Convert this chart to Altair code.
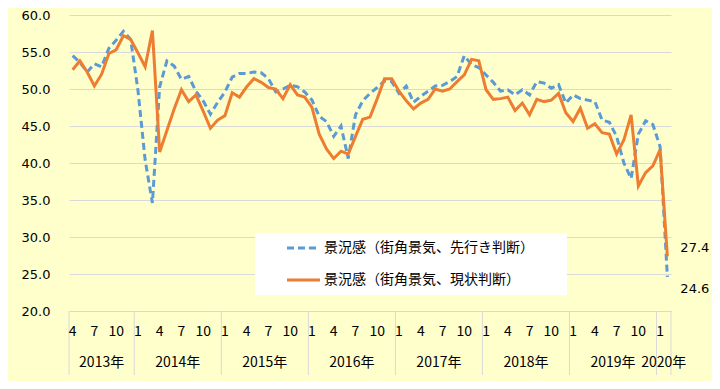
import altair as alt
import pandas as pd

# ---- data -------------------------------------------------------------
series_names = ["景況感（街角景気、先行き判断）", "景況感（街角景気、現状判断）"]

# 先行き判断 (blue dashed), Apr 2013 .. Feb 2020
future = [54.5, 53.6, 52.3, 53.4, 53.0, 55.5, 56.6, 57.8, 56.7,
          49.9, 40.4, 34.6, 50.3, 53.8, 53.1, 51.3, 51.7, 49.7, 48.4, 46.6, 48.2,
          49.6, 51.6, 52.1, 52.1, 52.3, 52.2, 51.4, 49.6, 50.0, 50.5, 50.3, 49.6,
          48.5, 46.3, 45.6, 43.6, 45.0, 40.6, 46.5, 48.4, 49.4, 50.2, 51.1, 51.0,
          49.4, 50.4, 48.2, 49.0, 49.7, 50.4, 50.5, 51.0, 51.7, 54.5, 53.3, 52.9,
          51.9, 50.9, 49.7, 49.9, 49.2, 49.9, 49.2, 51.0, 50.8, 50.1, 50.6, 48.1,
          49.2, 48.7, 48.5, 48.3, 45.8, 45.5, 43.6, 40.0, 37.9, 43.9, 45.7, 45.2,
          42.2, 24.6]

# 現状判断 (orange solid)
current = [52.6, 53.8, 52.3, 50.4, 52.0, 54.8, 55.3, 57.2, 56.7,
           54.9, 53.0, 57.9, 41.5, 44.4, 47.3, 49.9, 48.3, 49.2, 47.0, 44.7, 45.8,
           46.4, 49.5, 48.9, 50.3, 51.4, 50.9, 50.2, 50.0, 48.7, 50.6, 49.2, 48.9,
           47.5, 43.9, 41.9, 40.6, 41.6, 41.2, 43.6, 45.9, 46.2, 48.7, 51.4, 51.4,
           49.7, 48.4, 47.3, 48.1, 48.6, 50.0, 49.7, 50.0, 51.0, 51.9, 54.0, 53.8,
           49.9, 48.6, 48.7, 48.9, 47.1, 48.1, 46.5, 48.6, 48.3, 48.5, 49.4, 46.8,
           45.6, 47.4, 44.7, 45.3, 44.1, 43.9, 41.2, 43.1, 46.5, 36.9, 38.7, 39.6,
           41.8, 27.4]

start_year, start_month = 2013, 4
month_ticks = [1, 4, 7, 10]
y_ticks = [20.0, 25.0, 30.0, 35.0, 40.0, 45.0, 50.0, 55.0, 60.0]

# ---- tables built from the arrays --------------------------------------
n = len(current)
years, months = [], []
yy, mm = start_year, start_month
for _ in range(n):
    years.append(yy)
    months.append(mm)
    mm += 1
    if mm > 12:
        mm = 1
        yy += 1

df = pd.DataFrame({
    "idx": [i + 0.5 for i in range(n)],
    "year": years,
    "month": months,
    "future": future,
    "current": current,
})

month_df = df[df["month"].isin(month_ticks)].copy()
month_df["label"] = month_df["month"].astype(str)

year_rows = []
for yv in sorted(set(years)):
    idxs = [i for i, v in enumerate(years) if v == yv]
    year_rows.append({"year": f"{yv}年", "start": idxs[0], "end": idxs[-1] + 1,
                      "center": (idxs[0] + idxs[-1] + 1) / 2})
year_df = pd.DataFrame(year_rows)
bound_df = pd.DataFrame({"b": list(year_df["start"]) + [n]})

last_df = df.tail(1)

BLUE = "#5B9BD5"
ORANGE = "#ED7D31"
GRID = "#D9D9D9"
JP = "Noto Sans CJK JP"
NUM = "DejaVu Sans"

xscale = alt.Scale(domain=[0, n], nice=False, zero=False)
yscale = alt.Scale(domain=[20, 60], nice=False, zero=False)
yaxis = alt.Axis(values=y_ticks, format=".1f", grid=True, gridColor=GRID,
                 gridWidth=1, domain=False, ticks=False, labelPadding=19,
                 labelFont=NUM, labelFontSize=13, labelColor="#000000",
                 title=None)

X = alt.X("idx:Q", scale=xscale, axis=None)

base = alt.Chart(df)

line_future = base.mark_line(color=BLUE, strokeWidth=3, strokeDash=[7, 4]).encode(
    x=X, y=alt.Y("future:Q", scale=yscale, axis=yaxis))
line_current = base.mark_line(color=ORANGE, strokeWidth=3).encode(
    x=X, y=alt.Y("current:Q", scale=yscale, axis=yaxis))

lab_current = alt.Chart(last_df).mark_text(
    align="left", baseline="middle", dx=13, dy=-8, font=NUM, fontSize=13,
    color="#000000").encode(
    x=X, y=alt.Y("current:Q", scale=yscale, axis=yaxis),
    text=alt.Text("current:Q", format=".1f"))
lab_future = alt.Chart(last_df).mark_text(
    align="left", baseline="middle", dx=13, dy=12, font=NUM, fontSize=13,
    color="#000000").encode(
    x=X, y=alt.Y("future:Q", scale=yscale, axis=yaxis),
    text=alt.Text("future:Q", format=".1f"))

# category axis (two levels)
seps = alt.Chart(bound_df).mark_rule(color=GRID, strokeWidth=1).encode(
    x=alt.X("b:Q", scale=xscale, axis=None),
    y=alt.value(296), y2=alt.value(360))
month_text = alt.Chart(month_df).mark_text(
    baseline="middle", align="center", font=JP, fontSize=14, color="#000000").encode(
    x=X, y=alt.value(317), text="label:N")
year_text = alt.Chart(year_df).mark_text(
    baseline="middle", align="center", font=JP, fontSize=14, color="#000000").encode(
    x=alt.X("center:Q", scale=xscale, axis=None), y=alt.value(348), text="year:N")

# legend box
legend_df = pd.DataFrame({"series": series_names, "row": [0, 1]})
leg_box = alt.Chart(legend_df.head(1)).mark_rect(fill="white").encode(
    x=alt.value(186), x2=alt.value(498), y=alt.value(218), y2=alt.value(280))
leg_layers = [leg_box]
styles = [dict(color=BLUE, strokeDash=[7, 4]), dict(color=ORANGE)]
for r, st in enumerate(styles):
    sub = alt.Chart(legend_df[legend_df["row"] == r])
    leg_layers.append(sub.mark_rule(strokeWidth=3, **st).encode(
        x=alt.value(218), x2=alt.value(251), y=alt.value(233 + 32 * r)))
    leg_layers.append(sub.mark_text(align="left", baseline="middle", font=JP,
                                    fontSize=14, color="#000000").encode(
        x=alt.value(255), y=alt.value(233 + 32 * r), text="series:N"))

chart = alt.layer(
    line_future, line_current, lab_current, lab_future,
    seps, month_text, year_text, *leg_layers
).properties(
    width=602, height=296,
    autosize=alt.AutoSizeParams(type="none"),
    padding={"left": 61, "top": 7, "right": 41, "bottom": 70},
).configure(background="#FFFFCC").configure_view(stroke=None)

chart.save("out.html", embed_options={"renderer": "svg", "actions": False})
